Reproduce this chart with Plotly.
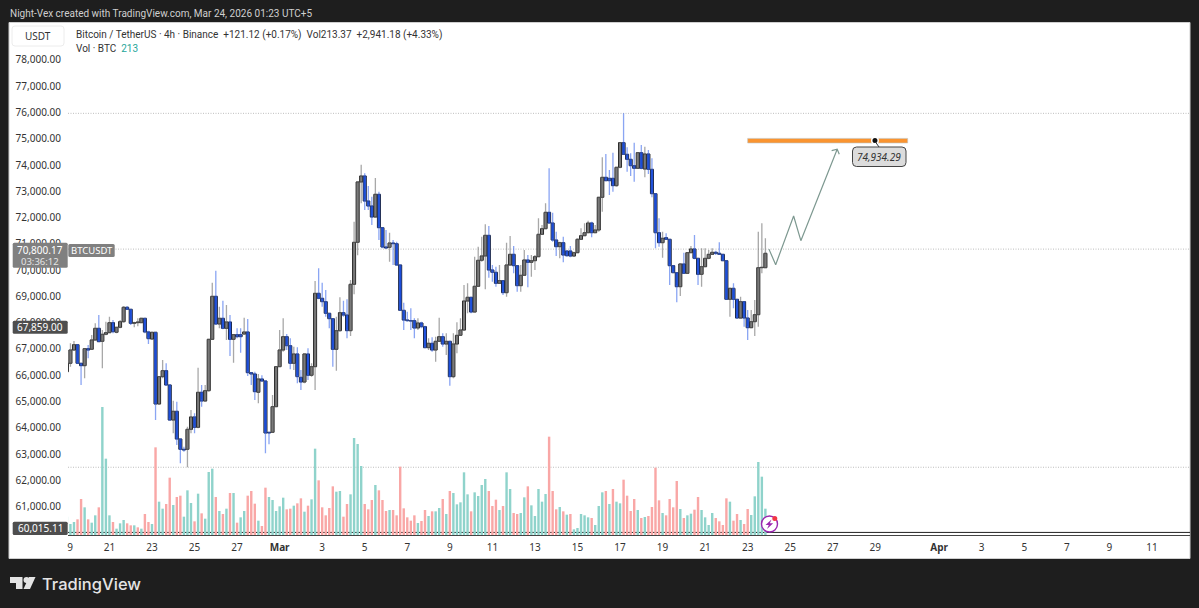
import pandas as pd
import plotly.graph_objects as go

W, H = 1199, 608

start_time = "2026-02-19 01:00"

opens = [
66135,66453,66960,67163,66453,66364,67011,66986,67341,67785,
67290,67557,67620,68001,67633,67823,68039,68585,68509,67976,
68001,68001,68166,67646,67379,67633,64905,65945,66174,65628,
64295,64626,63572,63179,63179,63940,64410,64016,65349,65019,
65412,67366,69003,67950,68166,67785,68026,67366,67544,67544,
67570,67646,66098,66047,65349,65856,65780,63826,63826,64803,
66326,66960,67468,67125,66453,66808,65919,65742,66808,65996,
66325,69117,68927,68800,68356,68153,66985,67696,68381,68292,
67696,69460,71059,73356,73584,72632,72442,72023,72886,71617,
70881,70868,71033,71008,70196,68470,68102,68077,68077,67798,
67988,67848,67049,67214,66960,67290,67468,67188,67290,65945,
67188,67518,67721,68825,68965,68407,69384,70374,70539,71325,
70006,69917,69498,69600,69143,70196,70602,70171,69409,69803,
70386,70297,70360,70513,71363,71579,72200,71794,71147,70893,
71046,70728,70728,70538,70665,71173,71312,71426,71794,71426,
71528,72772,73533,73495,73495,73216,73914,74853,74409,74218,
73977,73876,74472,73850,74421,73837,72911,71426,71046,71236,
71173,70170,69904,69370,70234,69878,70665,70805,70449,69840,
70132,70449,70601,70678,70640,70601,70360,68888,69307,68888,
68178,68800,68178,67810,68038,68305,70094,70094,70679]

closes = [
66453,66960,67163,66453,66364,67011,66960,67341,67785,67278,
67557,67620,68001,67658,67823,68039,68585,68509,67976,68001,
68026,68166,67646,67392,67633,64905,65945,66174,65628,64295,
64626,63572,63179,63153,63940,64410,64016,65349,65019,65412,
67366,69003,67950,68166,67785,68026,67366,67544,67468,67468,
67646,66098,66047,65374,65856,65780,63801,63801,64803,66326,
66960,67468,67125,66453,66808,65945,65742,66808,65996,66325,
69117,68927,68800,68356,68153,66985,67696,68381,68292,67696,
69460,71059,73356,73584,72632,72442,72023,72886,71617,70881,
70843,71033,71008,70196,68470,68102,68077,68064,67798,67988,
67848,67049,67214,66960,67290,67468,67188,67290,65945,67188,
67518,67721,68825,68965,68407,69384,70374,70539,71325,70006,
69917,69498,69600,69143,70196,70602,70171,69409,69803,70386,
70297,70360,70513,71363,71579,72200,71794,71147,70893,71046,
70576,70551,70538,70665,71173,71312,71426,71794,71426,71528,
72772,73533,73406,73406,73216,73914,74853,74409,74218,73977,
73876,74472,73876,74421,73837,72911,71426,71046,71211,71173,
70170,69904,69370,70234,69878,70665,70805,70449,69840,70132,
70449,70601,70678,70640,70601,70360,68888,69307,68888,68178,
68800,68178,67810,68038,68305,70094,70107,70640,70800]

highs = [
66500,67214,67303,67170,66470,67020,67151,67531,67976,68293,
67722,68039,68229,68102,67830,68102,68636,68636,68520,68039,
68166,68180,68180,67696,67658,67650,65960,66580,66453,65640,
65032,64993,63590,63280,64042,64676,64549,66288,65628,65628,
67380,69524,69981,68610,68839,68674,68293,67560,67785,67785,
68191,68141,66110,66135,66047,66000,65790,63840,65247,66340,
67722,68166,67570,67405,67087,67062,66199,66820,67023,66452,
69587,70069,69523,69244,68370,68170,68229,68965,68838,68889,
69625,71846,73370,74016,73686,73203,72797,73508,72988,71630,
71528,71427,71148,71084,70210,68762,68419,68546,68166,68166,
68039,67886,67404,67442,67468,68191,67594,67594,67315,67594,
68013,68166,69435,69498,68990,70513,70894,71275,71744,71681,
70196,70133,70196,69625,71046,71300,70919,70180,70196,70767,
70576,70576,70576,71972,71718,72543,73876,72188,71464,71084,
71274,70766,70919,70703,71211,71591,71782,71883,71845,71718,
72785,74294,74421,73812,74472,73930,74870,75969,74675,74447,
74853,74490,74764,74700,74574,74256,72925,71972,71464,71401,
71190,70185,69915,70250,70665,70680,70919,71338,70460,70830,
70830,70766,70830,70741,71058,70615,70370,69320,69497,68900,
68990,68825,68482,68482,68863,71464,71782,71211,70825]

lows = [
66050,66326,66940,66430,65628,65882,66643,66960,67316,67260,
66262,67519,67595,67595,67595,67785,68001,68483,67912,67823,
67860,67990,67595,67189,67341,64295,64880,65882,65590,64280,
63788,63344,62646,63090,62500,63788,63788,63978,64803,64993,
65374,67341,67912,67785,67747,67341,66732,66478,67405,66859,
67531,65970,65628,65057,64930,65755,63027,63369,63800,64780,
66300,66897,66960,66224,66199,65691,65437,65691,65818,65945,
65437,68889,68610,68229,67785,66325,66173,67658,68229,67404,
67493,69079,70564,72544,72290,72290,71719,72010,71148,70830,
70818,70323,70196,70158,68445,67721,68039,67721,67404,67721,
67785,67023,66960,66897,66516,67277,67087,66770,65602,65881,
66833,67493,67696,68356,68356,68381,69371,70323,69270,69714,
69561,69371,69473,69054,68990,70171,69879,69181,69181,69777,
69345,69751,70005,70487,71338,71553,71782,71084,70538,70449,
70297,70513,70487,70513,70640,71147,71299,71401,71249,71401,
71464,72226,73381,72860,72987,73178,73876,74383,73749,73584,
73368,73850,73837,73533,73660,72772,70830,70893,70475,71147,
69434,69878,68774,69015,69853,69853,70640,70411,69434,69370,
70107,70411,70576,70576,70576,70335,68863,68228,68546,68165,
68140,67848,67340,67784,67492,67848,69878,70068,70614]

volumes = [
440,264,312,376,864,664,376,296,472,664,
3072,1832,472,312,152,280,360,280,232,232,
184,152,504,312,264,2104,800,632,744,1376,
720,912,944,440,1072,768,328,992,520,392,
1512,1592,912,576,504,632,1008,1008,296,424,
576,944,1056,752,344,216,1136,912,840,576,
688,896,616,632,704,760,880,560,704,856,
2072,1312,664,472,648,1168,1040,1056,440,744,
976,2328,2184,1656,744,616,840,1200,1072,840,
576,600,600,472,1640,640,424,344,472,288,
336,600,456,568,568,648,864,504,1056,1008,
736,784,1504,976,568,1024,936,1200,1344,1056,
696,848,600,696,1504,1104,528,504,528,904,
1168,712,456,1104,800,984,2360,1056,616,672,
568,488,504,136,168,504,472,424,408,240,
696,1024,1056,744,1104,800,760,1328,944,576,
864,600,408,432,456,672,1616,832,528,472,
864,664,1296,624,408,472,512,608,912,600,
424,240,528,408,328,240,880,800,344,504,
360,264,624,480,928,1752,1400,632,213]

vol_sides = (
"u u u d d u d u u d "
"u u u d u u u d d u "
"d u d d u d u u d d "
"u d d u u u d u d u "
"u u d u d u d u d u "
"u d d d u d d u u u "
"u u d d u d d u d u "
"u d d d d d u u d d "
"u u u u d d d u d d "
"d u d d d d d d d u "
"d d u d u u d u d u "
"u u u u d u u u u d "
"d d u d u u d d u u "
"d u u u u u d d d u "
"d u d u u u u u d u "
"u u d u d u u d d d "
"d u d u d d d d u d "
"d d d u d u u d d u "
"u u u d d d d u d d "
"u d d u u u u u"
).split()

price_ticks = list(range(61000, 79000, 1000))
time_tick_dates = ["2026-02-19 04:30","2026-02-21 01:00","2026-02-23 01:00","2026-02-25 01:00","2026-02-27 01:00",
    "2026-03-01 01:00","2026-03-03 01:00","2026-03-05 01:00","2026-03-07 01:00","2026-03-09 01:00","2026-03-11 01:00",
    "2026-03-13 01:00","2026-03-15 01:00","2026-03-17 01:00","2026-03-19 01:00","2026-03-21 01:00","2026-03-23 01:00",
    "2026-03-25 01:00","2026-03-27 01:00","2026-03-29 01:00","2026-04-01 01:00","2026-04-03 01:00","2026-04-05 01:00",
    "2026-04-07 01:00","2026-04-09 01:00","2026-04-11 01:00"]
time_tick_labels = ["9","21","23","25","27","<b>Mar</b>","3","5","7","9","11","13","15","17","19","21","23","25","27","29",
    "<b>Apr</b>","3","5","7","9","11"]

path_times = ["2026-03-24 01:00","2026-03-24 08:36","2026-03-25 04:50","2026-03-25 13:00","2026-03-27 06:00",
              "2026-03-26 23:45","2026-03-27 06:00","2026-03-27 08:20"]
path_prices = [70800,70208,72062,71121,74601,74547,74601,74410]

target_price = 74934.29
target_time = "2026-03-29 00:36"
zone_times = ["2026-03-23 01:00","2026-03-30 13:30"]
zone_prices = [74840,75015]
swing_high, swing_low, last_price, prev_level, low_level = 75969, 62496, 70800.17, 67859.00, 60015.11

FONT = "Noto Sans"
HEAD = "Roboto"
n = min(len(opens), len(closes), len(highs), len(lows), len(volumes), len(vol_sides))
times = pd.date_range(start_time, periods=n, freq="4h")
opens, closes, highs, lows, volumes, vol_sides = (a[:n] for a in (opens, closes, highs, lows, volumes, vol_sides))
BAR_MS = 4 * 3600 * 1000


def X(px):
    return px / W


def Y(py):
    return 1 - py / H


def rrect(x0, y0, x1, y1, r, fill, line=None, lw=1, layer="above"):
    p = (f"M {X(x0+r)} {Y(y0)} L {X(x1-r)} {Y(y0)} Q {X(x1)} {Y(y0)} {X(x1)} {Y(y0+r)} "
         f"L {X(x1)} {Y(y1-r)} Q {X(x1)} {Y(y1)} {X(x1-r)} {Y(y1)} L {X(x0+r)} {Y(y1)} "
         f"Q {X(x0)} {Y(y1)} {X(x0)} {Y(y1-r)} L {X(x0)} {Y(y0+r)} Q {X(x0)} {Y(y0)} {X(x0+r)} {Y(y0)} Z")
    return dict(type="path", xref="paper", yref="paper", path=p, fillcolor=fill, layer=layer,
                line=dict(color=line or "rgba(0,0,0,0)", width=lw if line else 0))


def poly(pts, fill):
    p = "M " + " L ".join(f"{X(a)} {Y(b)}" for a, b in pts) + " Z"
    return dict(type="path", xref="paper", yref="paper", path=p, fillcolor=fill, layer="above", line=dict(width=0))


def txt(x, y, s, size=10.5, color="#333333", anchor="left", font=FONT, weight=None, **kw):
    f = dict(family=font, size=size, color=color)
    if weight:
        f["weight"] = weight
    return dict(xref="paper", yref="paper", x=X(x), y=Y(y), text=s, showarrow=False, xanchor=anchor, yanchor="middle",
                font=f, borderpad=0, **kw)


fig = go.Figure()

fig.add_bar(x=times, y=volumes, yaxis="y", width=BAR_MS * 0.68, hoverinfo="skip",
            marker=dict(color=["#8fd3cb" if s == "u" else "#f9a7a6" for s in vol_sides], line=dict(width=0)))

fig.add_candlestick(x=times, open=opens, high=highs, low=lows, close=closes, yaxis="y2", whiskerwidth=0,
                    increasing=dict(line=dict(color="rgba(110,110,110,0.6)", width=1.3), fillcolor="rgba(0,0,0,0)"),
                    decreasing=dict(line=dict(color="rgba(60,105,235,0.6)", width=1.3), fillcolor="rgba(0,0,0,0)"))

fig.add_bar(x=times, base=[min(o, c) for o, c in zip(opens, closes)],
            y=[abs(c - o) for o, c in zip(opens, closes)], yaxis="y2", width=BAR_MS * 0.85,
            marker=dict(color=["#808080" if c >= o else "#0a3fd0" for o, c in zip(opens, closes)],
                        line=dict(color="#111111", width=1)))

fig.add_scatter(x=path_times, y=path_prices, yaxis="y2", mode="lines", line=dict(color="#7d9890", width=1.2),
                hoverinfo="skip")
fig.add_scatter(x=[target_time], y=[target_price], yaxis="y2", mode="markers", hoverinfo="skip",
                marker=dict(color="#111111", size=6.5, line=dict(color="#ffffff", width=1.5)))

shapes = [
    dict(type="rect", xref="paper", yref="paper", x0=X(9), x1=X(1190), y0=Y(558.5), y1=Y(22.5), fillcolor="#ffffff",
         line=dict(color="#cfcfcf", width=1), layer="below"),
]
for level in (swing_high, swing_low, last_price):
    shapes.append(dict(type="line", xref="x domain", yref="y2", x0=0, x1=1, y0=level, y1=level, layer="below",
                       line=dict(color="#bdbdbd", width=1, dash="1px,1.5px")))
shapes.append(dict(type="line", xref="x domain", yref="y2", x0=0, x1=1, y0=low_level, y1=low_level, layer="below",
                   line=dict(color="#222222", width=1)))
shapes.append(dict(type="rect", xref="x", yref="y2", x0=zone_times[0], x1=zone_times[1], y0=zone_prices[0],
                   y1=zone_prices[1], fillcolor="#fa9430", line=dict(color="#bfc4c4", width=0.6), layer="below"))
# small connector from the point to its label
shapes.append(dict(type="line", xref="paper", yref="paper", x0=X(875.5), x1=X(879), y0=Y(142), y1=Y(147),
                   line=dict(color="#333333", width=1), layer="above"))
# label boxes
shapes += [
    rrect(12, 26, 64, 46, 3, "#ffffff", "#ececec"),
    rrect(852.5, 147, 906, 166.5, 4, "#dcdcdc", "#444444", 1),
    rrect(12.7, 242.7, 67.7, 267.7, 1.5, "#808080"),
    rrect(68.3, 244, 114.7, 257, 1.5, "#808080"),
    rrect(12.7, 320.7, 67.7, 333.7, 1.5, "#4e4e4e"),
    rrect(12.7, 521.7, 67.7, 535, 1.5, "#4e4e4e"),
]
# alert icon
shapes.append(dict(type="circle", xref="paper", yref="paper", x0=X(761.5), x1=X(777.5), y0=Y(532), y1=Y(516),
                   fillcolor="#ffffff", line=dict(color="#9c27b0", width=1.4), layer="above"))
shapes.append(poly([(771.5, 519.5), (765.5, 525), (768.8, 525), (767, 529), (773.2, 523.2), (769.9, 523.2)], "#9c27b0"))
shapes.append(dict(type="circle", xref="paper", yref="paper", x0=X(772.3), x1=X(777.3), y0=Y(521), y1=Y(516),
                   fillcolor="#f23645", line=dict(width=0), layer="above"))
# brand mark
shapes.append(poly([(10, 577), (22.5, 577), (22.5, 589), (16, 589), (16, 583), (10, 583)], "#e4e4e4"))
shapes.append(dict(type="circle", xref="paper", yref="paper", x0=X(23.5), x1=X(29.5), y0=Y(583), y1=Y(577),
                   fillcolor="#e4e4e4", line=dict(width=0), layer="above"))
shapes.append(poly([(29, 577), (35.5, 577), (30, 589), (23.5, 589)], "#e4e4e4"))

annotations = [
    txt(9, 13, "Night-Vex created with TradingView.com, Mar 24, 2026 01:23 UTC+5", size=10, color="#cfcfcf", font=HEAD),
    txt(38, 36, "USDT", size=10, anchor="center"),
    txt(75, 35, "Bitcoin / TetherUS · 4h · Binance  +121.12 (+0.17%)  Vol213.37  +2,941.18 (+4.33%)", size=10, font=HEAD),
    txt(75, 49, "Vol · BTC  <span style='color:#26a69a'>213</span>", size=10, font=HEAD),
    txt(40.2, 250, "70,800.17", size=10, color="#ffffff", anchor="center"),
    txt(40.2, 261, "03:36:12", size=9.5, color="#e4e4e4", anchor="center"),
    txt(91.5, 250.5, "BTCUSDT", size=9.5, color="#ffffff", anchor="center"),
    txt(40.2, 327.2, "67,859.00", size=10, color="#ffffff", anchor="center"),
    txt(40.2, 528.4, "60,015.11", size=10, color="#ffffff", anchor="center"),
    txt(879.2, 157, "<i>74,934.29</i>", size=10, color="#333333", anchor="center"),
    txt(41, 583.5, "TradingView", size=16.5, color="#e4e4e4", font="Inter", weight=500),
]

fig.update_layout(
    width=W, height=H, margin=dict(l=0, r=0, t=0, b=0), autosize=False,
    paper_bgcolor="#1e1e1e", plot_bgcolor="rgba(0,0,0,0)", showlegend=False, barmode="overlay",
    shapes=shapes, annotations=annotations,
    xaxis=dict(type="date", domain=[68 / W, 1190 / W], range=["2026-02-19 02:15", "2026-04-12 20:00"],
               rangeslider=dict(visible=False), tickmode="array", tickvals=time_tick_dates, ticktext=time_tick_labels,
               tickfont=dict(family=FONT, size=10, color="#333333"), ticks="outside", ticklen=3,
               tickcolor="rgba(0,0,0,0)", showgrid=False, zeroline=False, showline=True, linecolor="#444444",
               linewidth=1, tickangle=0),
    yaxis=dict(domain=[1 - 535 / H, 1 - 23 / H], range=[0, 12288], visible=False, showgrid=False, zeroline=False),
    yaxis2=dict(overlaying="y", side="left", range=[59917, 79408], anchor="x", tickmode="array",
                tickvals=price_ticks, ticktext=[f"{v:,.2f}" for v in price_ticks],
                tickfont=dict(family=FONT, size=10, color="#333333"), ticks="outside", ticklen=4,
                tickcolor="rgba(0,0,0,0)", showgrid=False, zeroline=False, showline=False),
)

fig.write_html("out.html", config={"displayModeBar": False},
               post_script="document.body.style.margin='0';document.body.style.overflow='hidden';")
